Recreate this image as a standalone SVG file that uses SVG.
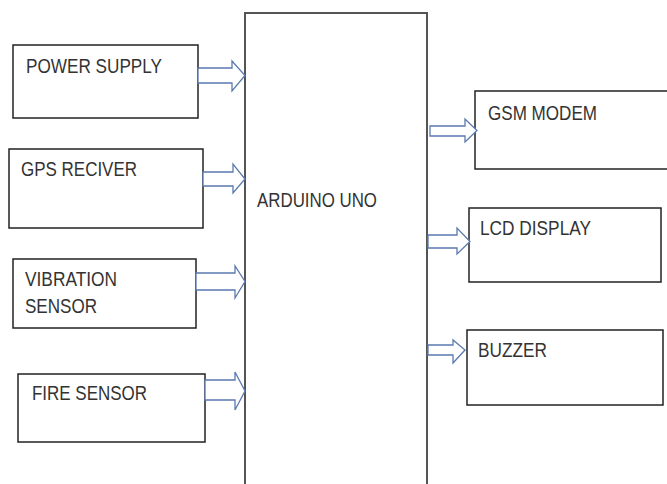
<svg xmlns="http://www.w3.org/2000/svg" width="667" height="484" viewBox="0 0 667 484">
<style>
.box{fill:#fff;stroke:#222;stroke-width:1.5}
.arr{fill:#fff;stroke:#5a7ab0;stroke-width:1.3;stroke-linejoin:miter}
.t{font-family:"Liberation Sans",Arial,sans-serif;font-size:20px;fill:#333}
</style>
<rect width="667" height="484" fill="#fff"/>
<g id="arduino">
<path d="M245,484 V13 H427 V484" fill="#fff" stroke="#555" stroke-width="2"/>
<text class="t" x="257" y="207" textLength="120" lengthAdjust="spacingAndGlyphs">ARDUINO UNO</text>
</g>
<g id="power-supply">
<rect class="box" x="13" y="45" width="185" height="73"/>
<text class="t" x="26" y="73" textLength="136" lengthAdjust="spacingAndGlyphs">POWER SUPPLY</text>
</g>
<g id="gps-reciver">
<rect class="box" x="9" y="149" width="194" height="79"/>
<text class="t" x="21" y="176" textLength="116" lengthAdjust="spacingAndGlyphs">GPS RECIVER</text>
</g>
<g id="vibration-sensor">
<rect class="box" x="13" y="259" width="183" height="69"/>
<text class="t" x="25" y="286" textLength="92" lengthAdjust="spacingAndGlyphs">VIBRATION</text>
<text class="t" x="25" y="313" textLength="72" lengthAdjust="spacingAndGlyphs">SENSOR</text>
</g>
<g id="fire-sensor">
<rect class="box" x="18" y="374" width="187" height="68"/>
<text class="t" x="32" y="400" textLength="115" lengthAdjust="spacingAndGlyphs">FIRE SENSOR</text>
</g>
<g id="gsm-modem">
<rect class="box" x="475" y="91" width="200" height="78"/>
<text class="t" x="488" y="120" textLength="109" lengthAdjust="spacingAndGlyphs">GSM MODEM</text>
</g>
<g id="lcd-display">
<rect class="box" x="469" y="208" width="192" height="74"/>
<text class="t" x="480" y="235" textLength="111" lengthAdjust="spacingAndGlyphs">LCD DISPLAY</text>
</g>
<g id="buzzer">
<rect class="box" x="467" y="330" width="196" height="75"/>
<text class="t" x="478" y="357" textLength="69" lengthAdjust="spacingAndGlyphs">BUZZER</text>
</g>
<g id="connectors">
<polygon class="arr" points="198,68 232,68 232,61 245,75.5 232,91 232,83 198,83"/>
<polygon class="arr" points="203,172 233,172 233,164 245,179 233,193 233,186 203,186"/>
<polygon class="arr" points="196,273 235,273 235,266 245,281.5 235,298 235,290 196,290"/>
<polygon class="arr" points="205,380 235,380 235,372 245,391 235,410 235,400 205,400"/>
<polygon class="arr" points="430,126 465,126 465,119 477,130.5 465,142 465,136 430,136"/>
<polygon class="arr" points="428,235 457,235 457,228 470,241.5 457,254 457,248 428,248"/>
<polygon class="arr" points="428,345 453,345 453,340 465,350 453,363 453,355 428,355"/>
</g>
</svg>
